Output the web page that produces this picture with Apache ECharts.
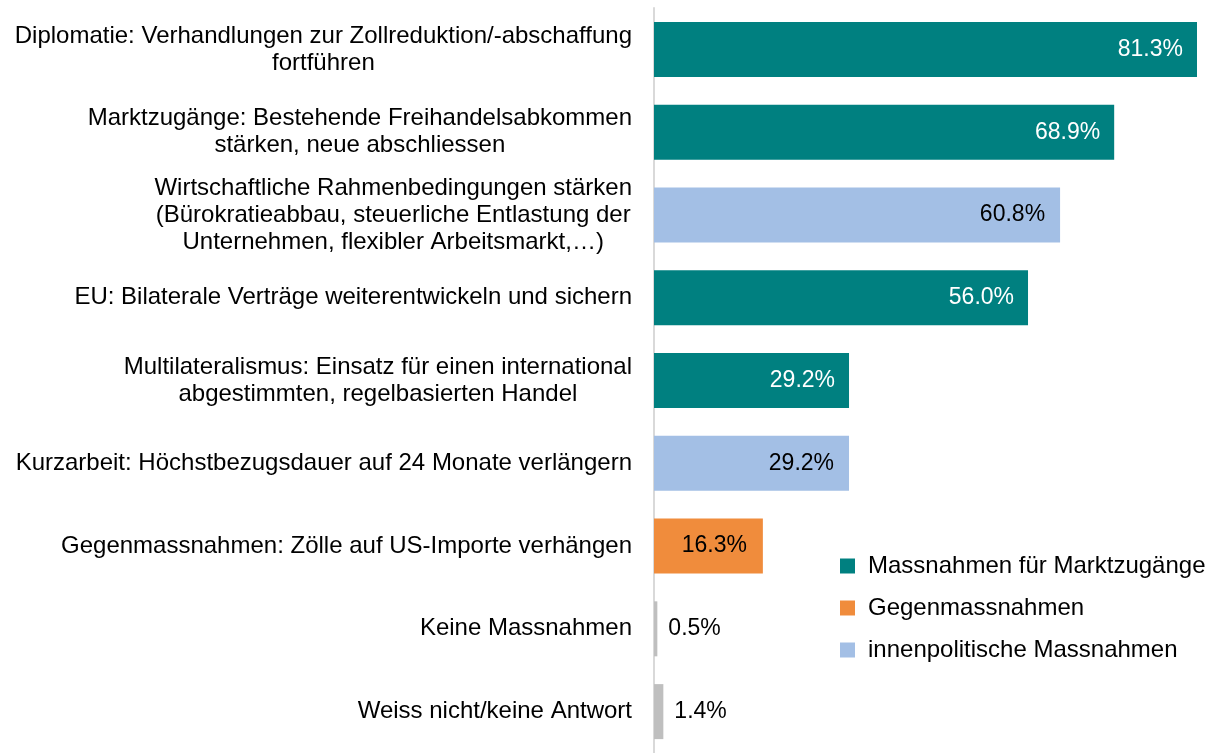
<!DOCTYPE html>
<html>
<head>
<meta charset="utf-8">
<script src="https://cdn.jsdelivr.net/npm/echarts@6/dist/echarts.min.js"></script>
<style>
  html, body { margin: 0; padding: 0; background: #fff; }
  #chart { width: 1206px; height: 753px; }
</style>
</head>
<body>
<div id="chart"></div>
<script>
// Kategorien (Zeilenumbrüche wie im Original)
var categories = [
  'Diplomatie: Verhandlungen zur Zollreduktion/-abschaffung\nfortführen',
  'Marktzugänge: Bestehende Freihandelsabkommen\nstärken, neue abschliessen',
  'Wirtschaftliche Rahmenbedingungen stärken\n(Bürokratieabbau, steuerliche Entlastung der\nUnternehmen, flexibler Arbeitsmarkt,…)',
  'EU: Bilaterale Verträge weiterentwickeln und sichern',
  'Multilateralismus: Einsatz für einen international\nabgestimmten, regelbasierten Handel',
  'Kurzarbeit: Höchstbezugsdauer auf 24 Monate verlängern',
  'Gegenmassnahmen: Zölle auf US-Importe verhängen',
  'Keine Massnahmen',
  'Weiss nicht/keine Antwort'
];
var values = [81.3, 68.9, 60.8, 56.0, 29.2, 29.2, 16.3, 0.5, 1.4];
// Gruppe je Kategorie
var groups = ['markt', 'markt', 'inner', 'markt', 'markt', 'inner', 'gegen', 'none', 'none'];
var groupNames = {
  markt: 'Massnahmen für Marktzugänge',
  gegen: 'Gegenmassnahmen',
  inner: 'innenpolitische Massnahmen',
  none: 'keine'
};

var colors = { markt: '#008080', gegen: '#f08c3c', inner: '#a3bfe5', none: '#bfbfbf' };
var font = '"Liberation Sans", Arial, sans-serif';

function pick(g) {
  return values.map(function (v, i) { return groups[i] === g ? v : '-'; });
}

function makeSeries(g, labelColor, pos, dist) {
  return {
    name: groupNames[g],
    type: 'bar',
    stack: 'total',
    barWidth: 55,
    data: pick(g),
    itemStyle: { color: colors[g] },
    label: {
      show: true,
      position: pos,
      distance: dist,
      color: labelColor,
      fontFamily: font,
      fontSize: 23,
      formatter: function (p) { return p.value.toFixed(1) + '%'; }
    }
  };
}

var myChart = echarts.init(document.getElementById('chart'));
var option = {
  backgroundColor: '#fff',
  animation: false,
  grid: { left: 654, right: 9, top: 8, height: 754, containLabel: false },
  xAxis: {
    type: 'value',
    min: 0,
    max: 81.3,
    show: false
  },
  yAxis: {
    type: 'category',
    inverse: true,
    data: categories,
    axisLine: { show: true, lineStyle: { color: '#d9d9d9', width: 2 } },
    axisTick: { show: false },
    axisLabel: {
      margin: 22,
      color: '#000',
      fontFamily: font,
      fontSize: 24,
      lineHeight: 27,
      formatter: function (v) {
        return v.split('\n').map(function (l) { return '{c|' + l + '}'; }).join('\n');
      },
      rich: {
        c: { align: 'center', color: '#000', fontFamily: font, fontSize: 24, lineHeight: 27 }
      }
    }
  },
  legend: {
    orient: 'vertical',
    left: 840,
    top: 554,
    padding: 0,
    itemWidth: 15,
    itemHeight: 15,
    itemGap: 18,
    icon: 'rect',
    data: [groupNames.markt, groupNames.gegen, groupNames.inner],
    textStyle: { color: '#000', fontFamily: font, fontSize: 24, padding: [0, 0, 0, 8] }
  },
  series: [
    makeSeries('markt', '#fff', 'insideRight', 14),
    makeSeries('gegen', '#000', 'insideRight', 16),
    makeSeries('inner', '#000', 'insideRight', 15),
    makeSeries('none', '#000', 'right', 11)
  ]
};
myChart.setOption(option);
</script>
</body>
</html>
